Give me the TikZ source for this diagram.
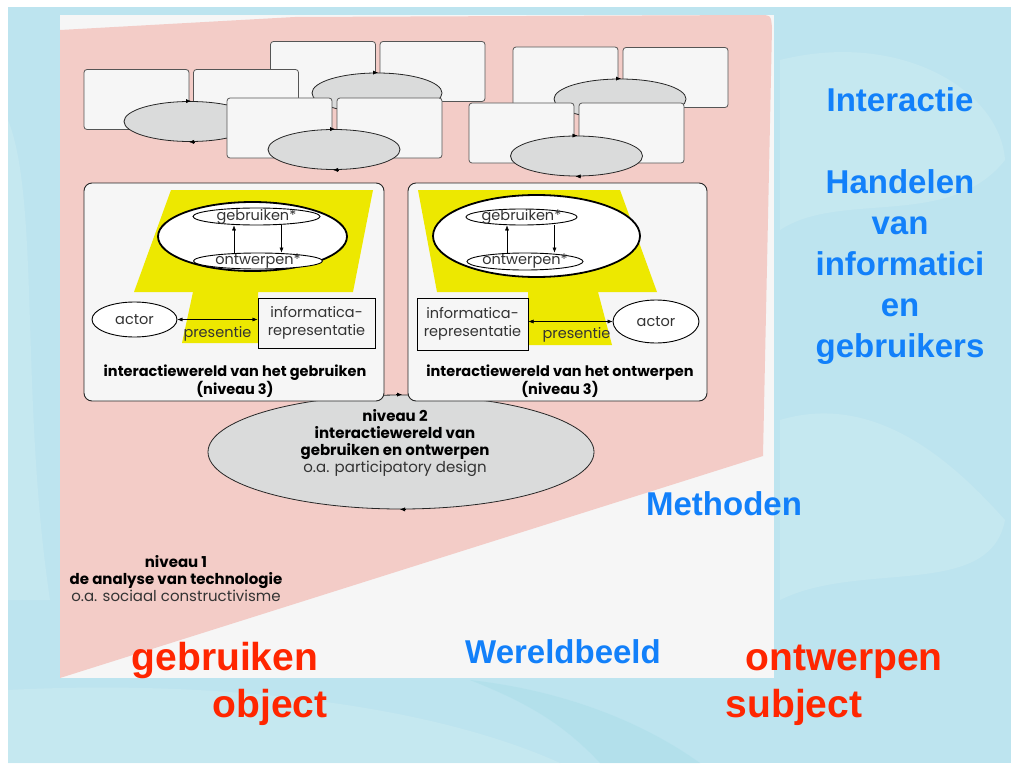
\documentclass[tikz,border=0pt]{standalone}
\usepackage{fontspec}
\setmainfont{Liberation Sans}
\newfontfamily\diagfont{Poppins}
\usetikzlibrary{shapes.geometric,arrows.meta}

\definecolor{bgblue}{RGB}{189,228,239}
\definecolor{bglight}{RGB}{206,236,241}
\definecolor{bgdark}{RGB}{170,222,233}
\definecolor{panelwhite}{RGB}{246,246,246}
\definecolor{pinkfill}{RGB}{243,204,199}
\definecolor{cyclegrey}{RGB}{218,219,219}
\definecolor{framegrey}{RGB}{85,85,85}
\definecolor{diagyellow}{RGB}{237,232,0}
\definecolor{wordblue}{RGB}{18,128,250}
\definecolor{wordred}{RGB}{255,38,0}

\begin{document}
\begin{tikzpicture}[x=1pt,y=-1pt,>={Latex[length=5pt,width=4pt]},
    card/.style={draw=framegrey, fill=panelwhite, rounded corners=3pt, minimum width=105pt, minimum height=60pt, inner sep=0pt, line width=.8pt},
    cyclus/.style={ellipse, draw=black!85, fill=cyclegrey, inner sep=0pt, minimum width=132pt, minimum height=40pt, line width=.8pt},
    world/.style={draw=black!85, fill=panelwhite, rounded corners=8pt, minimum width=300pt, minimum height=218pt, line width=.9pt},
    core/.style={ellipse, draw=black, fill=white, inner sep=0pt, line width=1.8pt},
    phase/.style={ellipse, draw=black, fill=white, inner sep=0pt, line width=.9pt},
    actorshape/.style={ellipse, draw=black, fill=white, inner sep=0pt, line width=.9pt},
    infobox/.style={draw=black, fill=panelwhite, line width=1pt, inner sep=0pt, align=center, text=black!80, font=\diagfont\fontsize{14.5}{18}\selectfont},
    small/.style={text=black!80, font=\diagfont\fontsize{14.5}{16}\selectfont},
    caption/.style={align=center, font=\diagfont\bfseries\fontsize{14.5}{17}\selectfont},
    bigblue/.style={anchor=base, text=wordblue, font=\bfseries\fontsize{33}{41}\selectfont},
    bigred/.style={anchor=base, text=wordred, font=\bfseries\fontsize{39}{47}\selectfont}]
\useasboundingbox (0,0) rectangle (1018,768);
\fill[white] (0,0) rectangle (1018,768);
\fill[bgblue] (8,7) rectangle (1011,763);
\fill[bglight, opacity=.5] (780,60) .. controls (900,30) and (1000,90) .. (1005,160) .. controls (950,230) and (840,190) .. (780,230) -- cycle;
\fill[bglight, opacity=.5] (780,420) .. controls (880,390) and (960,470) .. (1005,520) .. controls (990,600) and (860,560) .. (780,600) -- cycle;
\fill[bglight, opacity=.5] (8,690) .. controls (200,680) and (420,700) .. (560,763) -- (8,763) -- cycle;
\fill[bgdark, opacity=.5] (470,680) .. controls (560,690) and (640,720) .. (700,763) -- (600,763) .. controls (560,720) and (520,700) .. (470,680) -- cycle;
\fill[bglight, opacity=.5] (8,120) .. controls (40,200) and (20,400) .. (50,600) -- (8,600) -- cycle;

\fill[panelwhite] (60,15) rectangle (774,678);
\fill[pinkfill] (60,30) -- (295,17) -- (758,15) .. controls (771,15) .. (772,28) -- (763,456) -- (60,678) -- cycle;

\node[card] (cardC) at (323,71.5) {};
\node[card] (cardD) at (432.5,71.5) {};
\node[cyclus, minimum width=130pt] (loopB) at (377,93) {};
\draw[->] ([xshift=-4pt]loopB.north) -- ([xshift=1pt]loopB.north);
\node[card] (cardA) at (136.5,99.5) {};
\node[card] (cardB) at (246,99.5) {};
\node[cyclus] (loopA) at (190,121.5) {};
\draw[->] ([xshift=-4pt]loopA.north) -- ([xshift=1pt]loopA.north);
\draw[->] ([xshift=4pt]loopA.south) -- ([xshift=-1pt]loopA.south);
\node[card] (cardE) at (279.5,128) {};
\node[card] (cardF) at (389.5,128) {};
\node[cyclus] (loopC) at (334,149.5) {};
\draw[->] ([xshift=-4pt]loopC.north) -- ([xshift=1pt]loopC.north);
\draw[->] ([xshift=4pt]loopC.south) -- ([xshift=-1pt]loopC.south);
\node[card] (cardG) at (565.5,77) {};
\node[card] (cardH) at (675.5,77.5) {};
\node[cyclus] (loopD) at (620,99) {};
\draw[->] ([xshift=-4pt]loopD.north) -- ([xshift=1pt]loopD.north);
\node[card] (cardI) at (521.5,133) {};
\node[card] (cardJ) at (631.5,133) {};
\node[cyclus] (loopE) at (576.5,156) {};
\draw[->] ([xshift=-4pt]loopE.north) -- ([xshift=1pt]loopE.north);
\draw[->] ([xshift=4pt]loopE.south) -- ([xshift=-1pt]loopE.south);

\node[cyclus, minimum width=386pt, minimum height=114pt] (niveau2) at (401,452) {};
\draw[->] ([xshift=-5pt]niveau2.north) -- ([xshift=1pt]niveau2.north);
\draw[->] ([xshift=5pt]niveau2.south) -- ([xshift=-1pt]niveau2.south);
\node[align=center, font=\diagfont\fontsize{15}{17.3}\selectfont] (niveau2txt) at (395,443)
  {\textbf{niveau 2}\\ \textbf{interactiewereld van}\\ \textbf{gebruiken en ontwerpen}\\ {\color{black!80}o.a. participatory design}};

\node[world] (useworld) at (234,292) {};
\node[world, minimum width=299pt] (designworld) at (557.5,292) {};

\fill[diagyellow] (171,190) -- (373,190) -- (353,292) -- (258,292) -- (258,343) -- (182,343) -- (193,292) -- (134,292) -- cycle;
\fill[diagyellow] (418,190) -- (620,190) -- (657,292) -- (598,292) -- (612,345) -- (528,345) -- (528,292) -- (437,292) -- cycle;

\node[core, minimum width=189pt, minimum height=69pt] (usecore) at (252.5,236.5) {};
\node[phase, minimum width=127pt, minimum height=17pt, label={[small]center:gebruiken*}] (usegebr) at (256.5,216.5) {};
\node[phase, minimum width=129pt, minimum height=16pt, label={[small]center:ontwerpen*}] (useontw) at (258,261) {};
\draw[->] ([xshift=-24pt]useontw.north) -- ([xshift=-24pt]useontw.north |- usegebr.south);
\draw[->] ([xshift=25pt]usegebr.south) -- ([xshift=25pt]usegebr.south |- useontw.north);
\node[actorshape, minimum width=85pt, minimum height=35pt, label={[small]center:actor}] (useactor) at (134.5,319.5) {};
\node[infobox, minimum width=117pt, minimum height=50pt] (useinfo) at (316.5,323) {informatica-\\representatie};
\draw[<->] (useactor.east) -- (useactor.east -| useinfo.west) node[midway, below=3pt, small] {presentie};
\node[caption] (usetitle) at (235,381) {interactiewereld van het gebruiken\\(niveau 3)};

\node[core, minimum width=207pt, minimum height=82pt] (designcore) at (536.5,236) {};
\node[phase, minimum width=111pt, minimum height=16pt, label={[small]center:gebruiken*}] (designgebr) at (521.5,217) {};
\node[phase, minimum width=116pt, minimum height=17pt, label={[small]center:ontwerpen*}] (designontw) at (525,261.5) {};
\draw[->] ([xshift=-18pt]designontw.north) -- ([xshift=-18pt]designontw.north |- designgebr.south);
\draw[->] ([xshift=33pt]designgebr.south) -- ([xshift=33pt]designgebr.south |- designontw.north);
\node[infobox, minimum width=111pt, minimum height=52pt] (designinfo) at (472.5,324) {informatica-\\representatie};
\node[actorshape, minimum width=86pt, minimum height=43pt, label={[small]center:actor}] (designactor) at (656,321.5) {};
\draw[<->] (designinfo.east |- designactor.west) -- (designactor.west) node[midway, below=2pt, small, xshift=6pt] {presentie};
\node[caption] (designtitle) at (560,381) {interactiewereld van het ontwerpen\\(niveau 3)};

\node[align=center, font=\diagfont\fontsize{15}{17}\selectfont] (niveau1) at (176,579)
  {\textbf{niveau 1}\\ \textbf{de analyse van technologie}\\ {\color{black!80}o.a. sociaal constructivisme}};

\node[bigblue] (interactie) at (900,111) {Interactie};
\node[bigblue] (handelen) at (900,193) {Handelen};
\node[bigblue] (van) at (900,234) {van};
\node[bigblue] (informatici) at (900,275) {informatici};
\node[bigblue] (en) at (900,316) {en};
\node[bigblue] (gebruikers) at (900,357) {gebruikers};
\node[bigblue] (methoden) at (724,515) {Methoden};
\node[bigblue] (wereldbeeld) at (563,663) {Wereldbeeld};
\node[bigred] (gebruiken) at (225,670) {gebruiken};
\node[bigred] (object) at (270,717) {object};
\node[bigred] (ontwerpen) at (844,670) {ontwerpen};
\node[bigred] (subject) at (794,717) {subject};
\end{tikzpicture}
\end{document}
